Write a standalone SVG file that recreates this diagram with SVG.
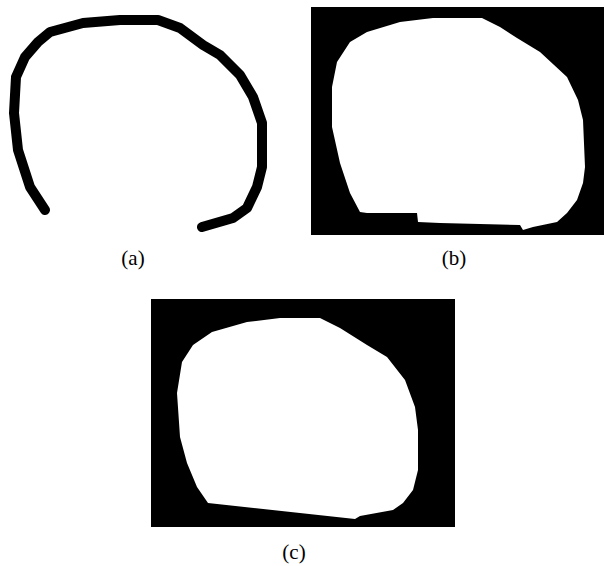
<svg xmlns="http://www.w3.org/2000/svg" width="606" height="566" viewBox="0 0 606 566">
<style>
.lbl{font-family:"Liberation Serif","DejaVu Serif",serif;font-size:21px;fill:#000;text-anchor:middle}
.curve{fill:none;stroke:#000;stroke-width:10;stroke-linecap:round;stroke-linejoin:round}
</style>
<rect width="606" height="566" fill="#fff"/>
<g id="panel-a">
<path class="curve" d="M45,210 L30,187 L18,150 L14,113 L16,77 L25,57 L38,42 L50,32 L83,23 L120,20 L158,20 L180,28 L203,45 L220,55 L240,75 L253,97 L262,123 L262,167 L257,187 L247,208 L233,218 L202,227"/>
<text class="lbl" x="133" y="265">(a)</text>
</g>
<g id="panel-b">
<rect x="311" y="7" width="293" height="228" fill="#000"/>
<path fill="#fff" d="M337,62 L350,42 L367,32 L400,22 L433,18 L482,18 L500,27 L517,38 L540,52 L567,77 L578,100 L583,120 L585,167 L583,183 L577,200 L567,213 L557,222 L533,227 L523,230 L520,225 L440,223 L418,222 L417,213 L367,213 L360,212 L350,193 L340,163 L332,127 L332,87 Z"/>
<text class="lbl" x="454" y="265">(b)</text>
</g>
<g id="panel-c">
<rect x="151" y="299" width="304" height="228" fill="#000"/>
<path fill="#fff" d="M182,362 L193,345 L212,332 L247,322 L280,318 L320,318 L340,328 L367,345 L387,357 L405,380 L415,407 L418,430 L418,470 L413,490 L403,503 L393,510 L360,516 L355,519 L208,503 L197,487 L187,463 L180,437 L177,393 Z"/>
<text class="lbl" x="294" y="559">(c)</text>
</g>
</svg>
